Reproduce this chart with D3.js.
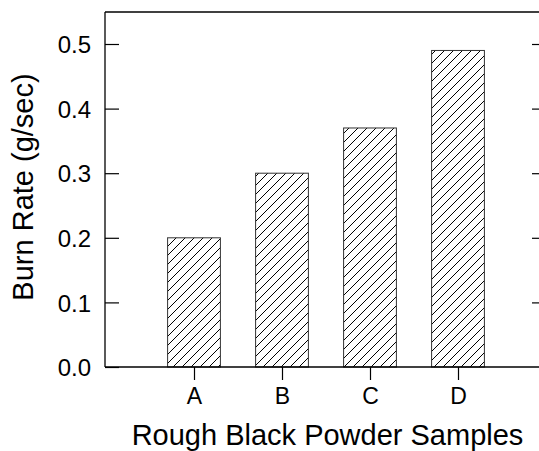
<!DOCTYPE html>
<html>
<head>
<meta charset="utf-8">
<script src="https://cdn.jsdelivr.net/npm/d3@7"></script>
<style>
  html, body { margin: 0; padding: 0; background: #fff; }
  svg { display: block; }
  text { font-family: "Liberation Sans", Arial, sans-serif; fill: #000; }
</style>
</head>
<body>
<script>
// Burn rate of rough black powder samples
const samples = ["A", "B", "C", "D"];
const burnRates = [0.20, 0.30, 0.37, 0.49];
const yTicks = [0.0, 0.1, 0.2, 0.3, 0.4, 0.5];
const yTickLabels = ["0.0", "0.1", "0.2", "0.3", "0.4", "0.5"];
const xTitle = "Rough Black Powder Samples";
const yTitle = "Burn Rate (g/sec)";

const W = 539, H = 451;
const plot = { left: 105, right: 546, top: 12, bottom: 367 };

const svg = d3.select("body").append("svg")
  .attr("width", W).attr("height", H);

// diagonal hatch fill for the bars
const defs = svg.append("defs");
const pat = defs.append("pattern")
  .attr("id", "hatch")
  .attr("patternUnits", "userSpaceOnUse")
  .attr("width", 9).attr("height", 9);
pat.append("rect").attr("width", 9).attr("height", 9).attr("fill", "#fff");
pat.append("path")
  .attr("d", "M0,9 L9,0 M-2,2 L2,-2 M7,11 L11,7")
  .attr("stroke", "#000").attr("stroke-width", 1.1)
  .attr("shape-rendering", "crispEdges");

const x = d3.scalePoint()
  .domain(samples)
  .range([plot.left + 1, plot.right])
  .padding(1);

const y = d3.scaleLinear()
  .domain([0, 0.55])
  .range([plot.bottom, plot.bottom - 0.55 * 646]);

const barW = x.step() * 0.6;

// bars
svg.append("g").selectAll("rect")
  .data(samples.map((s, i) => ({ s, v: burnRates[i] })))
  .join("rect")
  .attr("x", d => x(d.s) - barW / 2)
  .attr("y", d => y(d.v))
  .attr("width", barW)
  .attr("height", d => y(0) - y(d.v))
  .attr("fill", "url(#hatch)")
  .attr("stroke", "#333")
  .attr("stroke-width", 1);

// frame: top edge
svg.append("line")
  .attr("x1", plot.left).attr("x2", plot.right)
  .attr("y1", plot.top).attr("y2", plot.top)
  .attr("stroke", "#000").attr("stroke-width", 1.3);

// left axis, ticks pointing inward
const leftAxis = d3.axisLeft(y)
  .tickValues(yTicks)
  .tickFormat((d, i) => yTickLabels[i])
  .tickSizeInner(-14)
  .tickSizeOuter(0)
  .tickPadding(28);
const gl = svg.append("g")
  .attr("transform", `translate(${plot.left},0)`)
  .call(leftAxis);
gl.select(".domain").attr("d", `M0,${plot.top}V${plot.bottom}`);

// right axis, ticks only
const rightAxis = d3.axisRight(y)
  .tickValues(yTicks.slice(1))
  .tickFormat("")
  .tickSizeInner(-14)
  .tickSizeOuter(0);
const gr = svg.append("g")
  .attr("transform", `translate(${plot.right},0)`)
  .call(rightAxis);
gr.select(".domain").attr("d", `M0,${plot.top}V${plot.bottom}`);

// bottom axis
const bottomAxis = d3.axisBottom(x)
  .tickSizeInner(13)
  .tickSizeOuter(0)
  .tickPadding(8);
const gb = svg.append("g")
  .attr("transform", `translate(0,${plot.bottom})`)
  .call(bottomAxis);
gb.select(".domain").attr("d", `M${plot.left},0H${plot.right}`);

[gl, gr, gb].forEach(g => {
  g.selectAll(".domain").attr("stroke", "#000").attr("stroke-width", 1.3);
  g.selectAll(".tick line").attr("stroke", "#000").attr("stroke-width", 1.2);
  g.selectAll("text").attr("font-family", "Liberation Sans, Arial, sans-serif").attr("fill", "#000");
});
gl.selectAll("text").attr("font-size", 24).attr("dy", "0.36em").attr("dx", 0);
gl.selectAll(".tick text").attr("x", -14);
gb.selectAll("text").attr("font-size", 23);

// axis titles
svg.append("text")
  .attr("x", (plot.left + plot.right) / 2 + 2)
  .attr("y", 445)
  .attr("text-anchor", "middle")
  .attr("font-size", 29)
  .text(xTitle);

svg.append("text")
  .attr("transform", `translate(33,187) rotate(-90)`)
  .attr("text-anchor", "middle")
  .attr("font-size", 29)
  .text(yTitle);
</script>
</body>
</html>
